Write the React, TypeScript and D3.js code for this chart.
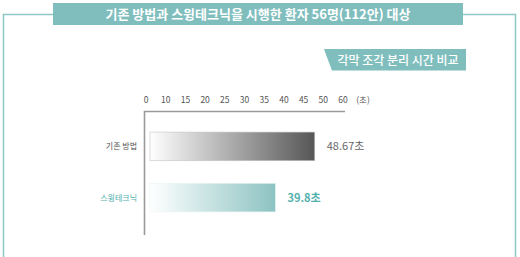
import React from "react";
import * as d3 from "d3";

const categories = ["기존 방법", "스윙테크닉"];
const values = [48.67, 39.8];
const valueLabels = ["48.67초", "39.8초"];
const tickLabels = ["0", "10", "15", "20", "25", "30", "35", "40", "45", "50", "60"];
const unitLabel = "(초)";
const title = "기존 방법과 스윙테크닉을 시행한 환자 56명(112안) 대상";
const subtitle = "각막 조각 분리 시간 비교";

const W = 520;
const H = 257;
const teal = "#80bebe";
const font = "'Noto Sans CJK KR', 'Noto Sans', sans-serif";

export default function App() {
  const tickScale = d3.scalePoint<string>().domain(tickLabels).range([146, 343]);
  const xBar = d3.scaleLinear().domain([11.5, 60]).range([150, 365]);
  const yBand = d3.scaleBand<string>().domain(categories).range([124.4, 219.6]).paddingInner(0.44).paddingOuter(0.15);

  return (
    <svg width={W} height={H} style={{ position: "absolute", left: 0, top: 0 }} fontFamily={font}>
      <defs>
        <linearGradient id="g0" x1="0" x2="1" y1="0" y2="0">
          <stop offset="0" stopColor="#ffffff" />
          <stop offset="1" stopColor="#565656" />
        </linearGradient>
        <linearGradient id="g1" x1="0" x2="1" y1="0" y2="0">
          <stop offset="0" stopColor="#ffffff" />
          <stop offset="1" stopColor="#8cc3c2" />
        </linearGradient>
      </defs>
      <rect width={W} height={H} fill="#fff" />
      {/* frame */}
      <path d={`M3.5,${H} V14.5 H60 M455,14.5 H515.5 V${H}`} fill="none" stroke="#8fc6c6" strokeWidth={1.5} />
      <rect x={53} y={3} width={410} height={22} fill={teal} />
      <text x={258} y={18.5} textAnchor="middle" fill="#fff" fontSize={13} fontWeight={700}>{title}</text>
      {/* subtitle tag */}
      <path d="M324,49 H466 V70.5 H332 L328,60 Z" fill={teal} />
      <text x={398} y={64.5} textAnchor="middle" fill="#fff" fontSize={12} fontWeight={500}>{subtitle}</text>
      {/* axis ticks */}
      {tickLabels.map((t) => (
        <text key={t} x={tickScale(t)} y={103} textAnchor="middle" fill="#555" fontSize={8.5}>{t}</text>
      ))}
      <text x={363} y={103} textAnchor="middle" fill="#555" fontSize={8.5}>{unitLabel}</text>
      <path d="M345,111.5 H144.5 V235" fill="none" stroke="#9a9a9a" strokeWidth={1.6} />
      {/* bars */}
      {categories.map((c, i) => {
        const y = yBand(c)!;
        const bh = yBand.bandwidth();
        const x1 = xBar(values[i]);
        const col = i === 0 ? "#666" : "#52b0ac";
        return (
          <g key={c}>
            <rect x={150} y={y} width={x1 - 150} height={bh} fill={`url(#g${i})`} stroke={i === 0 ? "#c4c4c4" : "#eaf3f3"} strokeWidth={0.6} />
            <text x={137} y={y + bh / 2 + 3} textAnchor="end" fill={i === 0 ? "#555" : "#52b0ac"} fontSize={8}>{c}</text>
            <text x={x1 + 12} y={y + bh / 2 + 4} fill={col} fontSize={11} fontWeight={i === 1 ? 700 : 400}>{valueLabels[i]}</text>
          </g>
        );
      })}
    </svg>
  );
}
